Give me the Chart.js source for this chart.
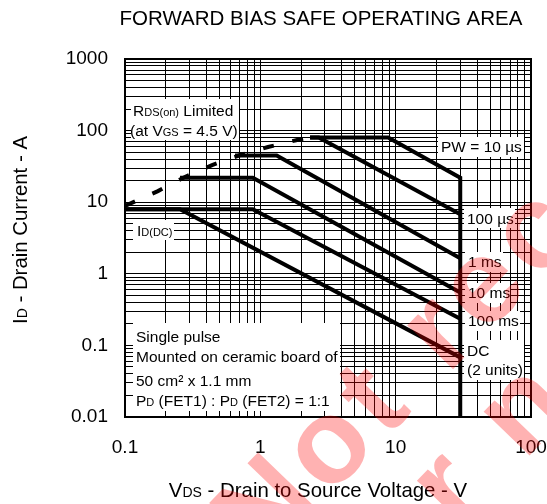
<!DOCTYPE html>
<html>
<head>
<meta charset="utf-8">
<script src="https://cdn.jsdelivr.net/npm/chart.js@4.4.1/dist/chart.umd.min.js"></script>
<style>
  html, body { margin: 0; padding: 0; background: #fff; }
</style>
</head>
<body>
<canvas id="soa" width="547" height="504"></canvas>
<script>
// SOA curves: drain-source voltage (V) vs drain current (A)
const pw10usV  = [2.33, 8.8, 30, 30];
const pw10usI  = [80, 80, 22, 0.01];
const pw100usV = [2.33, 2.7, 30];
const pw100usI = [80, 80, 6.8];
const pw1msV   = [0.65, 1.32, 30];
const pw1msI   = [45, 45, 1.65];
const pw10msV  = [0.255, 0.88, 30];
const pw10msI  = [22, 22, 0.55];
const pw100msV = [0.1, 0.88, 30];
const pw100msI = [8, 8, 0.235];
const dcV      = [0.1, 0.255, 30];
const dcI      = [8, 8, 0.068];
// RDS(on) limit (dashed)
const rdsV = [0.1, 0.175, 0.277, 0.44, 0.71, 1.14, 1.87, 2.33];
const rdsI = [8.9, 14.3, 22.5, 33, 45.6, 59, 74, 80];

const xTickLabels = ['0.1', '1', '10', '100'];
const yTickLabels = ['0.01', '0.1', '1', '10', '100', '1000'];

const FONT = '"Liberation Sans", Arial, sans-serif';

function pts(xs, ys) {
  return xs.map((x, i) => ({x: x, y: ys[i]}));
}

// 1..9 x 10^n grid
function logTicks(min, max) {
  const out = [];
  for (let e = Math.round(Math.log10(min)); e < Math.round(Math.log10(max)); e++) {
    for (let m = 1; m < 10; m++) out.push({value: m * Math.pow(10, e)});
  }
  out.push({value: max});
  return out;
}

function decadeLabel(list) {
  return v => list.find(l => Math.abs(Number(l) / v - 1) < 1e-6) || '';
}

// draw text made of [string, size] pieces on one baseline
function richText(ctx, parts, x, y, align) {
  let w = 0;
  parts.forEach(p => { ctx.font = p[1] + 'px ' + FONT; w += ctx.measureText(p[0]).width; });
  let cx = align === 'center' ? x - w / 2 : x;
  parts.forEach(p => {
    ctx.font = p[1] + 'px ' + FONT;
    ctx.fillText(p[0], cx, y);
    cx += ctx.measureText(p[0]).width;
  });
}

const S = 15.5, s = 11;
const notes = [
  [[['R', S], ['DS(on)', s], [' Limited', S]], 133, 115.5],
  [[['(at V', S], ['GS', s], [' = 4.5 V)', S]], 130, 135.5],
  [[['I', S], ['D(DC)', s]], 137, 235.5],
  [[['PW = 10 \u00b5s', S]], 441, 152],
  [[['100 \u00b5s', S]], 467, 224],
  [[['1 ms', S]], 468, 267],
  [[['10 ms', S]], 468, 298],
  [[['100 ms', S]], 468, 326],
  [[['DC', S]], 467, 355.5],
  [[['(2 units)', S]], 467, 375],
  [[['Single pulse', S]], 136, 341.5],
  [[['Mounted on ceramic board of', S]], 136, 361.5],
  [[['50 cm\u00b2 x 1.1 mm', S]], 136, 385.5],
  [[['P', S], ['D', s], [' (FET1) : P', S], ['D', s], [' (FET2) = 1:1', S]], 136, 405.5]
];
// white label backgrounds over the grid
const boxes = [
  [131, 99, 108, 41], [133, 220, 41, 20], [438, 137, 86, 20], [464, 208, 51, 20],
  [465, 252, 38, 20], [465, 283, 45, 20], [465, 311, 55, 20], [464, 340, 60, 40],
  [133, 323, 207, 88]
];

const soaText = {
  id: 'soaText',
  beforeDatasetsDraw(chart) {
    const ctx = chart.ctx;
    ctx.save();
    ctx.fillStyle = '#fff';
    boxes.forEach(b => ctx.fillRect(b[0], b[1], b[2], b[3]));
    ctx.restore();
  },
  afterDraw(chart) {
    const ctx = chart.ctx;
    const a = chart.chartArea;
    ctx.save();
    ctx.strokeStyle = '#000';
    ctx.lineWidth = 2;
    ctx.strokeRect(a.left, a.top, a.right - a.left, a.bottom - a.top);

    ctx.fillStyle = '#000';
    ctx.textBaseline = 'alphabetic';
    notes.forEach(n => richText(ctx, n[0], n[1], n[2], 'left'));

    richText(ctx, [['FORWARD BIAS SAFE OPERATING AREA', 20.5]], 321, 24.5, 'center');
    richText(ctx, [['V', 20.4], ['DS', 14], [' - Drain to Source Voltage - V', 20.4]], 318, 496.5, 'center');
    ctx.save();
    ctx.translate(27, 230);
    ctx.rotate(-Math.PI / 2);
    richText(ctx, [['I', 20.4], ['D', 14], [' - Drain Current - A', 20.4]], 0, 0, 'center');
    ctx.restore();

    // watermark
    ctx.fillStyle = 'rgba(255,0,0,0.3)';
    ctx.font = 'bold 120px ' + FONT;
    ctx.letterSpacing = '8px';
    ctx.translate(263, 566);
    ctx.rotate(-46 * Math.PI / 180);
    ctx.fillText('Not recommended', 0, 0);
    ctx.fillText('for new design', 31, 115);
    ctx.restore();
  }
};

function line(xs, ys, dash) {
  return {
    data: pts(xs, ys),
    borderColor: '#000',
    borderWidth: 4,
    borderDash: dash || [],
    borderCapStyle: 'butt',
    pointRadius: 0,
    tension: 0,
    fill: false
  };
}

const gridOpts = {color: '#000', lineWidth: 1, drawTicks: false};

new Chart(document.getElementById('soa').getContext('2d'), {
  type: 'line',
  data: {
    datasets: [
      line(pw10usV, pw10usI),
      line(pw100usV, pw100usI),
      line(pw1msV, pw1msI),
      line(pw10msV, pw10msI),
      line(pw100msV, pw100msI),
      line(dcV, dcI),
      line(rdsV, rdsI, [11, 19])
    ]
  },
  options: {
    responsive: false,
    animation: false,
    layout: {padding: {top: 59, right: 16, left: 0, bottom: 0}},
    plugins: {legend: {display: false}, title: {display: false}, tooltip: {enabled: false}},
    scales: {
      x: {
        type: 'logarithmic', min: 0.1, max: 100,
        afterBuildTicks: sc => { sc.ticks = logTicks(0.1, 100); },
        afterFit: sc => { sc.height = 87; sc.paddingLeft = 0; sc.paddingRight = 0; },
        grid: gridOpts,
        border: {display: false},
        ticks: {autoSkip: false, maxRotation: 0, padding: 19, color: '#000',
          font: {family: FONT, size: 19}, callback: decadeLabel(xTickLabels)}
      },
      y: {
        type: 'logarithmic', min: 0.01, max: 1000,
        afterBuildTicks: sc => { sc.ticks = logTicks(0.01, 1000); },
        afterFit: sc => { sc.width = 125; sc.paddingTop = 0; sc.paddingBottom = 0; },
        grid: gridOpts,
        border: {display: false},
        ticks: {autoSkip: false, padding: 17, color: '#000',
          font: {family: FONT, size: 19}, callback: decadeLabel(yTickLabels)}
      }
    }
  },
  plugins: [soaText]
});
</script>
</body>
</html>
